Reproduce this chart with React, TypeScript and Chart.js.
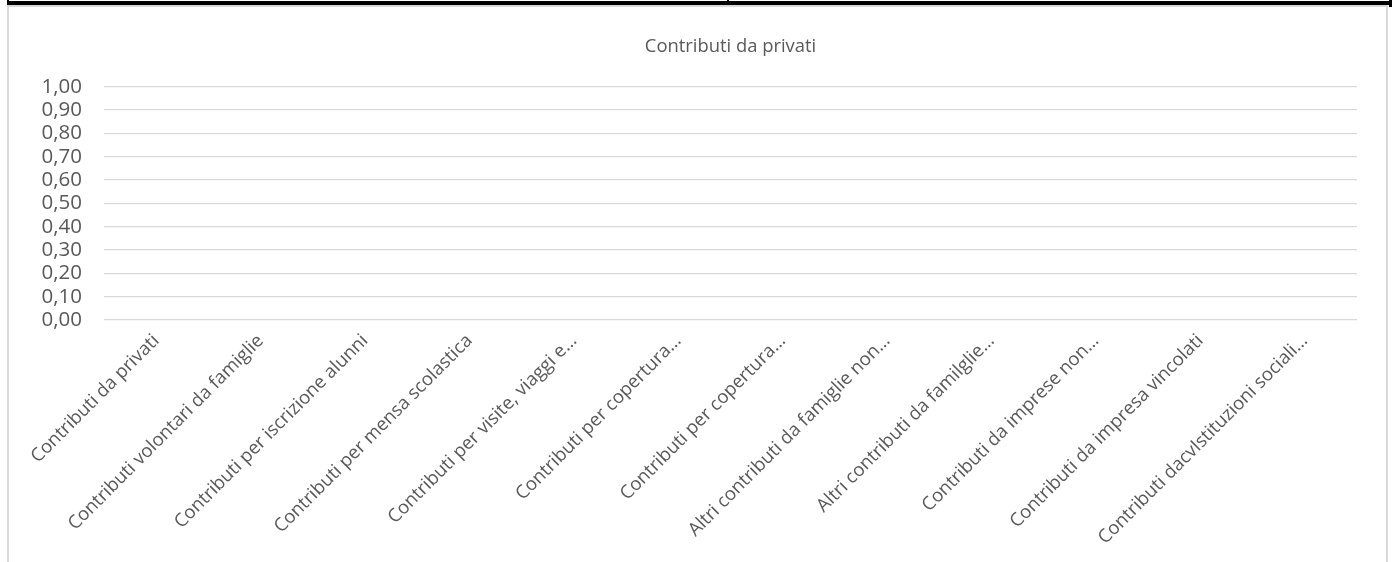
import React, { useEffect, useRef } from "react";
import { Chart, registerables } from "chart.js";

Chart.register(...registerables);

const chartTitle = "Contributi da privati";

const categories = [
  "Contributi da privati",
  "Contributi volontari da famiglie",
  "Contributi per iscrizione alunni",
  "Contributi per mensa scolastica",
  "Contributi per visite, viaggi e…",
  "Contributi per copertura…",
  "Contributi per copertura…",
  "Altri contributi da famiglie non…",
  "Altri contributi da familglie…",
  "Contributi da imprese non…",
  "Contributi da impresa vincolati",
  "Contributi dacvIstituzioni sociali…",
];

const values = [0, 0, 0, 0, 0, 0, 0, 0, 0, 0, 0, 0];

const yMin = 0;
const yMax = 1;
const yStep = 0.1;

const FONT = "'Open Sans', sans-serif";
const TEXT = "#595959";
const GRID = "#d9d9d9";

export default function App() {
  const ref = useRef<HTMLCanvasElement | null>(null);

  useEffect(() => {
    if (!ref.current) return;
    const chart = new Chart(ref.current, {
      type: "bar",
      data: {
        labels: categories,
        datasets: [
          {
            label: chartTitle,
            data: values,
            backgroundColor: "#4472c4",
            borderWidth: 0,
          },
        ],
      },
      options: {
        animation: false,
        responsive: false,
        maintainAspectRatio: false,
        layout: { padding: { left: 0, right: 29, top: 0, bottom: 0 } },
        plugins: {
          legend: { display: false },
          tooltip: { enabled: false },
          title: {
            display: true,
            text: chartTitle,
            fullSize: false,
            color: TEXT,
            font: { family: FONT, size: 18.4, weight: "normal" },
            padding: { top: 28.5, bottom: 29.2 },
          },
        },
        scales: {
          x: {
            grid: { display: false },
            border: { display: false },
            ticks: {
              color: TEXT,
              font: { family: FONT, size: 18.5 },
              autoSkip: false,
              maxRotation: 45,
              minRotation: 45,
              padding: 2,
            },
            afterFit: (scale: any) => {
              scale.height = 242;
            },
          },
          y: {
            min: yMin,
            max: yMax,
            border: { display: false },
            grid: { color: GRID, lineWidth: 1.3, drawTicks: false },
            ticks: {
              stepSize: yStep,
              autoSkip: false,
              color: TEXT,
              font: { family: FONT, size: 20.5 },
              padding: 22,
              callback: (v: any) => Number(v).toFixed(2).replace(".", ","),
            },
            afterFit: (scale: any) => {
              scale.width = 95;
            },
          },
        },
      },
    });
    return () => chart.destroy();
  }, []);

  return (
    <div
      style={{
        position: "absolute",
        left: 0,
        top: 0,
        width: 1393,
        height: 562,
        background: "#fff",
        overflow: "hidden",
      }}
    >
      <div
        style={{
          position: "absolute",
          left: 7,
          top: 5,
          width: 1381,
          height: 620,
          boxSizing: "border-box",
          border: `2px solid ${GRID}`,
        }}
      />
      <div style={{ position: "absolute", left: 7, top: 1, width: 1385, height: 4, background: "#000" }} />
      <div style={{ position: "absolute", left: 7, top: 0, width: 2, height: 5, background: "#000" }} />
      <div style={{ position: "absolute", left: 727, top: 0, width: 2, height: 5, background: "#000" }} />
      <div style={{ position: "absolute", left: 1389, top: 0, width: 3, height: 7, background: "#000" }} />
      <canvas
        ref={ref}
        width={1377}
        height={555}
        style={{ position: "absolute", left: 9, top: 7, width: 1377, height: 555 }}
      />
    </div>
  );
}
